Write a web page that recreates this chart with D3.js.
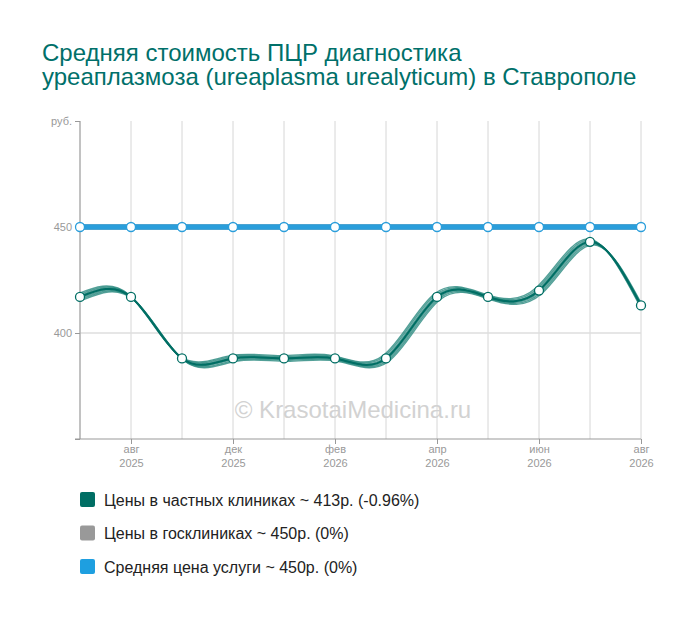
<!DOCTYPE html>
<html><head><meta charset="utf-8">
<script src="https://cdn.jsdelivr.net/npm/d3@7"></script>
<style>body{margin:0;background:#fff;} svg{display:block;font-family:"Liberation Sans",Arial,sans-serif;}</style>
</head><body>
<svg id="c" width="700" height="617"></svg>
<script>
const categories = ["июл 2025","авг 2025","окт 2025","дек 2025","янв 2026","фев 2026","мар 2026","апр 2026","май 2026","июн 2026","июл 2026","авг 2026"];
const tickMonths = ["","авг","","дек","","фев","","апр","","июн","","авг"];
const tickYears  = ["","2025","","2025","","2026","","2026","","2026","","2026"];
const privatePrices = [417,417,388,388,388,388,388,417,417,420,443,413];
const publicPrices  = [450,450,450,450,450,450,450,450,450,450,450,450];
const avgPrices     = [450,450,450,450,450,450,450,450,450,450,450,450];
const yTicks = [350,400,450,500];
const yTickLabels = ["","400","450","руб."];
const legendLabels = ["Цены в частных клиниках ~ 413р. (-0.96%)","Цены в госклиниках ~ 450р. (0%)","Средняя цена услуги ~ 450р. (0%)"];
const colors = ["#006e64","#999999","#2a9edb"];
const legendColors = ["#006e64","#999999","#1e9fe0"];

const svg = d3.select("#c");
const x = d3.scalePoint().domain(d3.range(categories.length)).range([80,641]);
const y = d3.scaleLinear().domain([350,500]).range([439,121]);

// title
const title = svg.append("text").attr("fill","#00706a").attr("font-size",24);
title.append("tspan").attr("x",42).attr("y",61).text("Средняя стоимость ПЦР диагностика");
title.append("tspan").attr("x",42).attr("y",85).text("уреаплазмоза (ureaplasma urealyticum) в Ставрополе");

// vertical grid
svg.append("g").selectAll("line").data(d3.range(categories.length)).join("line")
  .attr("x1",d=>x(d)).attr("x2",d=>x(d)).attr("y1",y(500)).attr("y2",y(350))
  .attr("stroke","#d6d6d6").attr("stroke-width",1);
// horizontal grid
svg.append("g").selectAll("line").data([400,450]).join("line")
  .attr("x1",80).attr("x2",641).attr("y1",d=>y(d)).attr("y2",d=>y(d))
  .attr("stroke","#dedede").attr("stroke-width",1.5);

// watermark
svg.append("text").attr("x",353).attr("y",418).attr("text-anchor","middle")
  .attr("font-size",24).attr("fill","#d2d2d2").text("© KrasotaiMedicina.ru");

// y axis
const yAxis = d3.axisLeft(y).tickValues(yTicks).tickSize(5).tickPadding(3)
  .tickFormat((d,i)=>yTickLabels[i]);
const gy = svg.append("g").attr("transform","translate(80,0)").call(yAxis);
gy.select(".domain").attr("stroke","#999").attr("d",`M0,${y(500)}V${y(350)}`);
gy.selectAll(".tick line").attr("stroke","#999");
gy.selectAll(".tick text").attr("fill","#999").attr("font-size",11).attr("font-family","Liberation Sans, Arial, sans-serif");

// x axis
const xAxis = d3.axisBottom(x).tickSize(0).tickFormat(()=> "");
const gx = svg.append("g").attr("transform",`translate(0,${y(350)})`).call(xAxis);
gx.select(".domain").attr("stroke","#999").attr("d",`M75,0H641`);
gx.selectAll(".tick").each(function(d){
  const g = d3.select(this);
  if (tickMonths[d]) {
    g.append("line").attr("y1",0).attr("y2",5).attr("stroke","#999");
    g.append("text").attr("y",14).attr("text-anchor","middle").attr("fill","#999").attr("font-size",11)
      .attr("font-family","Liberation Sans, Arial, sans-serif").text(tickMonths[d]);
    g.append("text").attr("y",28).attr("text-anchor","middle").attr("fill","#999").attr("font-size",11)
      .attr("font-family","Liberation Sans, Arial, sans-serif").text(tickYears[d]);
  }
});

// lines
const lineNat = d3.line().x((d,i)=>x(i)).y(d=>y(d)).curve(d3.curveNatural);
const lineLin = d3.line().x((d,i)=>x(i)).y(d=>y(d));

svg.append("path").attr("d",lineLin(publicPrices)).attr("fill","none").attr("stroke",colors[1]).attr("stroke-width",5.5);
svg.append("path").attr("d",lineLin(avgPrices)).attr("fill","none").attr("stroke",colors[2]).attr("stroke-width",5.5);

// teal series with calligraphic band
const band = svg.append("g");
for (let k=-3; k<=3; k++) {
  band.append("path").attr("d",lineNat(privatePrices)).attr("fill","none")
    .attr("stroke", k===0 ? colors[0] : "#2a8a80").attr("stroke-opacity", k===0?1:0.8)
    .attr("stroke-width",1.4)
    .attr("transform",`translate(${k*0.95},${k*0.95})`);
}
svg.append("path").attr("d",lineNat(privatePrices)).attr("fill","none").attr("stroke",colors[0]).attr("stroke-width",2);

// markers
function markers(data,color){
  svg.append("g").selectAll("circle").data(data).join("circle")
    .attr("cx",(d,i)=>x(i)).attr("cy",d=>y(d)).attr("r",4.5)
    .attr("fill","#fff").attr("stroke",color).attr("stroke-width",1.3);
}
markers(avgPrices,colors[2]);
markers(privatePrices,colors[0]);

// legend
const lg = svg.append("g").selectAll("g").data(legendLabels).join("g")
  .attr("transform",(d,i)=>`translate(80,${492+i*33.5})`);
lg.append("rect").attr("width",15).attr("height",15).attr("rx",2).attr("fill",(d,i)=>legendColors[i]);
lg.append("text").attr("x",24).attr("y",13.5).attr("font-size",16).attr("fill","#222").text(d=>d);
</script>
</body></html>
